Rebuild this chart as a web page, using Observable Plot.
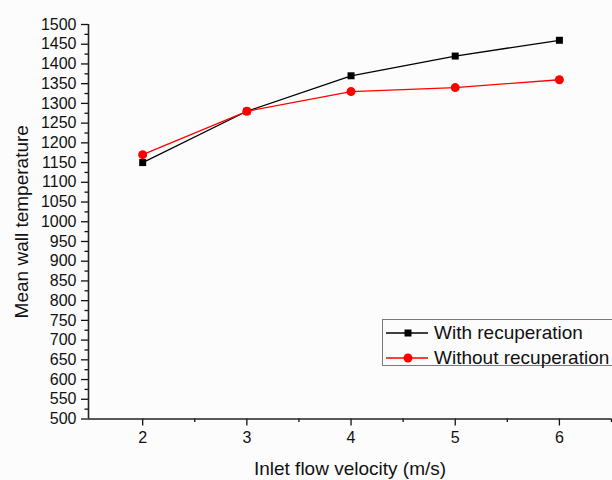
<!DOCTYPE html>
<html>
<head>
<meta charset="utf-8">
<script src="https://cdn.jsdelivr.net/npm/d3@7"></script>
<script src="https://cdn.jsdelivr.net/npm/@observablehq/plot@0.6"></script>
<style>
  html, body { margin: 0; padding: 0; background: #ffffff; overflow: hidden; }
  #chart { position: relative; width: 612px; height: 480px; background: #fcfcfc; font-family: "Liberation Sans", Arial, sans-serif; }
  #legend { position: absolute; left: 382px; top: 319px; width: 240px; height: 47px; border: 1px solid #7a7a7a; background: #fcfcfc; box-sizing: border-box; }
  .row { position: absolute; left: 0; height: 24px; display: flex; align-items: center; }
  .row span { font-size: 19px; color: #111; margin-left: 5px; white-space: nowrap; }
</style>
</head>
<body>
<div id="chart"></div>
<script>
const velocities = [2, 3, 4, 5, 6];
const withRecuperation = [1150, 1280, 1370, 1420, 1460];
const withoutRecuperation = [1170, 1280, 1330, 1340, 1360];
const seriesNames = ["With recuperation", "Without recuperation"];
const seriesColors = ["#000000", "#ff0000"];
const seriesSymbols = ["square", "circle"];
const xTicks = [2, 3, 4, 5, 6];
const xMinorTicks = [2.5, 3.5, 4.5, 5.5, 6.5];
const yTicks = [500, 550, 600, 650, 700, 750, 800, 850, 900, 950, 1000, 1050, 1100, 1150, 1200, 1250, 1300, 1350, 1400, 1450, 1500];
const yMinorTicks = [525, 575, 625, 675, 725, 775, 825, 875, 925, 975, 1025, 1075, 1125, 1175, 1225, 1275, 1325, 1375, 1425, 1475];
const xDomain = [1.48, 6.5];
const yDomain = [500, 1500];
const xLabel = "Inlet flow velocity (m/s)";
const yLabel = "Mean wall temperature";

const rows = [];
velocities.forEach((v, i) => {
  rows.push({series: seriesNames[0], x: v, y: withRecuperation[i]});
});
velocities.forEach((v, i) => {
  rows.push({series: seriesNames[1], x: v, y: withoutRecuperation[i]});
});
const s0 = rows.filter(d => d.series === seriesNames[0]);
const s1 = rows.filter(d => d.series === seriesNames[1]);

const plot = Plot.plot({
  width: 612,
  height: 480,
  marginLeft: 88,
  marginRight: 1,
  marginTop: 24,
  marginBottom: 61.5,
  x: {domain: xDomain},
  y: {domain: yDomain},
  style: {fontFamily: "'Liberation Sans', Arial, sans-serif", background: "transparent", color: "#111"},
  marks: [
    Plot.axisY(yTicks, {tickSize: 7, tickPadding: 5, fontSize: 16, label: null, strokeWidth: 1.3, tickFormat: d => String(d)}),
    Plot.axisY(yMinorTicks, {tickSize: 3.5, tickFormat: () => "", label: null, strokeWidth: 1.3}),
    Plot.axisX(xTicks, {tickSize: 7, tickPadding: 6, fontSize: 16, label: null, strokeWidth: 1.3, tickFormat: d => String(d)}),
    Plot.axisX(xMinorTicks, {tickSize: 3.5, tickFormat: () => "", label: null, strokeWidth: 1.3}),
    Plot.ruleX([xDomain[0]], {stroke: "#222", strokeWidth: 1.6}),
    Plot.ruleY([yDomain[0]], {stroke: "#222", strokeWidth: 1.6}),
    Plot.line(s0, {x: "x", y: "y", stroke: seriesColors[0], strokeWidth: 1.3}),
    Plot.dot(s0, {x: "x", y: "y", fill: seriesColors[0], symbol: seriesSymbols[0], r: 3.95, stroke: "none"}),
    Plot.line(s1, {x: "x", y: "y", stroke: seriesColors[1], strokeWidth: 1.3}),
    Plot.dot(s1, {x: "x", y: "y", fill: seriesColors[1], symbol: seriesSymbols[1], r: 4.5, stroke: "none"}),
    Plot.text([xLabel], {text: d => d, frameAnchor: "bottom", dy: 49.5, lineAnchor: "middle", textAnchor: "middle", fontSize: 19, fill: "#111"}),
    Plot.text([yLabel], {text: d => d, frameAnchor: "left", dx: -66.5, rotate: -90, lineAnchor: "middle", textAnchor: "middle", fontSize: 19, fill: "#111"})
  ]
});

const chart = document.getElementById("chart");
chart.appendChild(plot);

const legend = document.createElement("div");
legend.id = "legend";
seriesNames.forEach((name, i) => {
  const row = document.createElement("div");
  row.className = "row";
  row.style.top = (i === 0 ? 1 : 25.5) + "px";
  const svg = d3.create("svg").attr("width", 46).attr("height", 24);
  svg.append("line").attr("x1", 3).attr("x2", 45).attr("y1", 12).attr("y2", 12)
    .attr("stroke", seriesColors[i]).attr("stroke-width", 1.3);
  if (seriesSymbols[i] === "square") {
    svg.append("rect").attr("x", 25 - 3.5).attr("y", 12 - 3.5).attr("width", 7).attr("height", 7).attr("fill", seriesColors[i]);
  } else {
    svg.append("circle").attr("cx", 25).attr("cy", 12).attr("r", 4.5).attr("fill", seriesColors[i]);
  }
  row.appendChild(svg.node());
  const label = document.createElement("span");
  label.textContent = name;
  row.appendChild(label);
  legend.appendChild(row);
});
chart.appendChild(legend);
</script>
</body>
</html>
